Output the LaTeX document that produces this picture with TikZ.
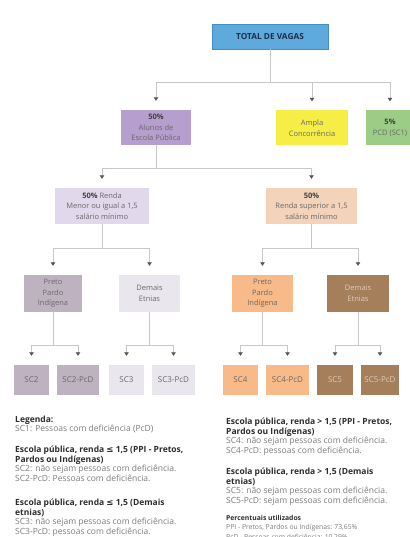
\documentclass[tikz,border=0pt]{standalone}
\usepackage{fontspec}
\setmainfont{Open Sans}
\newfontfamily\symfont{DejaVu Sans}
\usetikzlibrary{arrows.meta}
\begin{document}
\begin{tikzpicture}[x=1pt,y=-1pt,
  box/.style={rectangle, inner sep=0pt, align=center, text=boxtext,
    font=\fontsize{7.5}{10.5}\selectfont},
  sclabel/.style={box, minimum height=30pt, font=\fontsize{8}{10}\selectfont},
  conn/.style={draw=linegray, line width=0.8pt},
  tip/.style={conn, -{Triangle[width=4.5pt,length=3.5pt,color=tipgray]}, shorten >=9pt},
  legend/.style={anchor=north west, inner sep=0pt, align=left, text=legtext,
    font=\fontsize{8.5}{9.8}\selectfont}]
%Define all colors here.

\definecolor{linegray}{RGB}{200,200,200}
\definecolor{tipgray}{RGB}{85,85,85}
\definecolor{boxtext}{RGB}{105,105,105}
\definecolor{boldtext}{RGB}{65,65,65}
\definecolor{legtext}{RGB}{125,125,125}
\definecolor{legbold}{RGB}{45,45,45}

\fill[white] (0,0) rectangle (409,537);
\useasboundingbox (0,0) rectangle (409,537);

\definecolor{totalfill}{RGB}{95,170,220}
\definecolor{totaldraw}{RGB}{70,140,190}
\definecolor{totaltext}{RGB}{30,45,75}
\node(total) at (270,36.5) [box, minimum width=116pt, minimum height=25pt, fill=totalfill, draw=totaldraw, text=totaltext, font=\bfseries\fontsize{8.3}{9}\selectfont] {TOTAL DE VAGAS};

\definecolor{pubfill}{RGB}{182,158,206}
\node(publica) at (156,127.5) [box, minimum width=70pt, minimum height=35pt, fill=pubfill] {\textbf{\color{boldtext}50\%}\\Alunos de\\Escola Pública};

\definecolor{amplafill}{RGB}{246,238,70}
\node(ampla) at (312,128) [box, minimum width=72pt, minimum height=35pt, fill=amplafill] {Ampla\\Concorrência};

\definecolor{pcdfill}{RGB}{155,205,135}
\node(pcd) at (390,128) [box, minimum width=48pt, minimum height=35pt, fill=pcdfill] {\textbf{\color{boldtext}5\%}\\PCD (SC1)};

\definecolor{rendaAfill}{RGB}{226,216,236}
\node(rendaA) at (102,206) [box, minimum width=94pt, minimum height=36pt, fill=rendaAfill] {\textbf{\color{boldtext}50\%} Renda\\Menor ou igual a 1,5\\salário mínimo};

\definecolor{rendaBfill}{RGB}{243,211,186}
\node(rendaB) at (311.5,206) [box, minimum width=91pt, minimum height=36pt, fill=rendaBfill] {\textbf{\color{boldtext}50\%}\\Renda superior a 1,5\\salário mínimo};

\definecolor{ppiAfill}{RGB}{190,178,193}
\definecolor{demAfill}{RGB}{233,231,237}
\definecolor{ppiBfill}{RGB}{247,186,136}
\definecolor{demBfill}{RGB}{165,126,92}
\definecolor{demBtext}{RGB}{222,204,186}
\node(ppiA) at (53,293.5) [box, minimum width=58pt, minimum height=37pt, fill=ppiAfill] {Preto\\Pardo\\Indígena};
\node(demA) at (149.5,293.5) [box, minimum width=61pt, minimum height=37pt, fill=demAfill] {Demais\\Etnias};
\node(ppiB) at (262.5,293.5) [box, minimum width=61pt, minimum height=37pt, fill=ppiBfill] {Preto\\Pardo\\Indígena};
\node(demB) at (358,293.5) [box, minimum width=62pt, minimum height=37pt, fill=demBfill, text=demBtext] {Demais\\Etnias};

\node(sc2) at (31.5,380) [sclabel, minimum width=35pt, fill=ppiAfill] {SC2};
\node(sc2p) at (78,380) [sclabel, minimum width=42pt, fill=ppiAfill] {SC2-PcD};
\node(sc3) at (126.5,380) [sclabel, minimum width=35pt, fill=demAfill] {SC3};
\node(sc3p) at (173.5,380) [sclabel, minimum width=43pt, fill=demAfill] {SC3-PcD};
\node(sc4) at (240.5,380) [sclabel, minimum width=35pt, fill=ppiBfill] {SC4};
\node(sc4p) at (287.5,380) [sclabel, minimum width=43pt, fill=ppiBfill] {SC4-PcD};
\node(sc5) at (335,380) [sclabel, minimum width=36pt, fill=demBfill, text=demBtext] {SC5};
\node(sc5p) at (380,380) [sclabel, minimum width=38pt, fill=demBfill, text=demBtext] {SC5-PcD};

\coordinate (j0) at (270,82);
\coordinate (j1) at (156,168);
\coordinate (j2) at (102,248);
\coordinate (j3) at (311.5,248);
\coordinate (j4) at (53,345);
\coordinate (j5) at (149.5,345);
\coordinate (j6) at (262.5,345);
\coordinate (j7) at (358,345);

\draw[conn] (total) -- (j0);
\draw[conn] (j0 -| publica) -- (j0 -| pcd);
\draw[tip] (j0 -| publica) -- (publica);
\draw[tip] (j0 -| ampla) -- (ampla);
\draw[tip] (j0 -| pcd) -- (pcd);

\draw[conn] (publica) -- (j1);
\draw[conn] (j1 -| rendaA) -- (j1 -| rendaB);
\draw[tip] (j1 -| rendaA) -- (rendaA);
\draw[tip] (j1 -| rendaB) -- (rendaB);

\draw[conn] (rendaA) -- (j2);
\draw[conn] (j2 -| ppiA) -- (j2 -| demA);
\draw[tip] (j2 -| ppiA) -- (ppiA);
\draw[tip] (j2 -| demA) -- (demA);
\draw[conn] (rendaB) -- (j3);
\draw[conn] (j3 -| ppiB) -- (j3 -| demB);
\draw[tip] (j3 -| ppiB) -- (ppiB);
\draw[tip] (j3 -| demB) -- (demB);

\draw[conn] (ppiA) -- (j4);
\draw[conn] (j4 -| sc2) -- (j4 -| sc2p);
\draw[tip] (j4 -| sc2) -- (sc2);
\draw[tip] (j4 -| sc2p) -- (sc2p);
\draw[conn] (demA) -- (j5);
\draw[conn] (j5 -| sc3) -- (j5 -| sc3p);
\draw[tip] (j5 -| sc3) -- (sc3);
\draw[tip] (j5 -| sc3p) -- (sc3p);
\draw[conn] (ppiB) -- (j6);
\draw[conn] (j6 -| sc4) -- (j6 -| sc4p);
\draw[tip] (j6 -| sc4) -- (sc4);
\draw[tip] (j6 -| sc4p) -- (sc4p);
\draw[conn] (demB) -- (j7);
\draw[conn] (j7 -| sc5) -- (j7 -| sc5p);
\draw[tip] (j7 -| sc5) -- (sc5);
\draw[tip] (j7 -| sc5p) -- (sc5p);

% legend
\node(legA) at (15,415.5) [legend] {\textcolor{legbold}{\bfseries Legenda:}\\SC1: Pessoas com deficiência (PcD)};
\node(legB) at (15,445.5) [legend] {\textcolor{legbold}{\bfseries Escola pública, renda {\symfont ≤} 1,5 (PPI - Pretos,}\\\textcolor{legbold}{\bfseries Pardos ou Indígenas)}\\SC2: não sejam pessoas com deficiência.\\SC2-PcD: Pessoas com deficiência.};
\node(legC) at (15,498.5) [legend] {\textcolor{legbold}{\bfseries Escola pública, renda {\symfont ≤} 1,5 (Demais}\\\textcolor{legbold}{\bfseries etnias)}\\SC3: não sejam pessoas com deficiência.\\SC3-PcD: pessoas com deficiência.};
\node(legD) at (226,417.5) [legend] {\textcolor{legbold}{\bfseries Escola pública, renda > 1,5 (PPI - Pretos,}\\\textcolor{legbold}{\bfseries Pardos ou Indígenas)}\\SC4: não sejam pessoas com deficiência.\\SC4-PcD: pessoas com deficiência.};
\node(legE) at (226,467.5) [legend] {\textcolor{legbold}{\bfseries Escola pública, renda > 1,5 (Demais}\\\textcolor{legbold}{\bfseries etnias)}\\SC5: não sejam pessoas com deficiência.\\SC5-PcD: sejam pessoas com deficiência.};
\node(legF) at (226,515) [legend, font=\fontsize{6.8}{9.5}\selectfont] {\textcolor{legbold}{\bfseries Percentuais utilizados}\\PPI - Pretos, Pardos ou Indígenas: 73,65\%\\PcD - Pessoas com deficiência: 10,29\%};
\end{tikzpicture}
\end{document}
